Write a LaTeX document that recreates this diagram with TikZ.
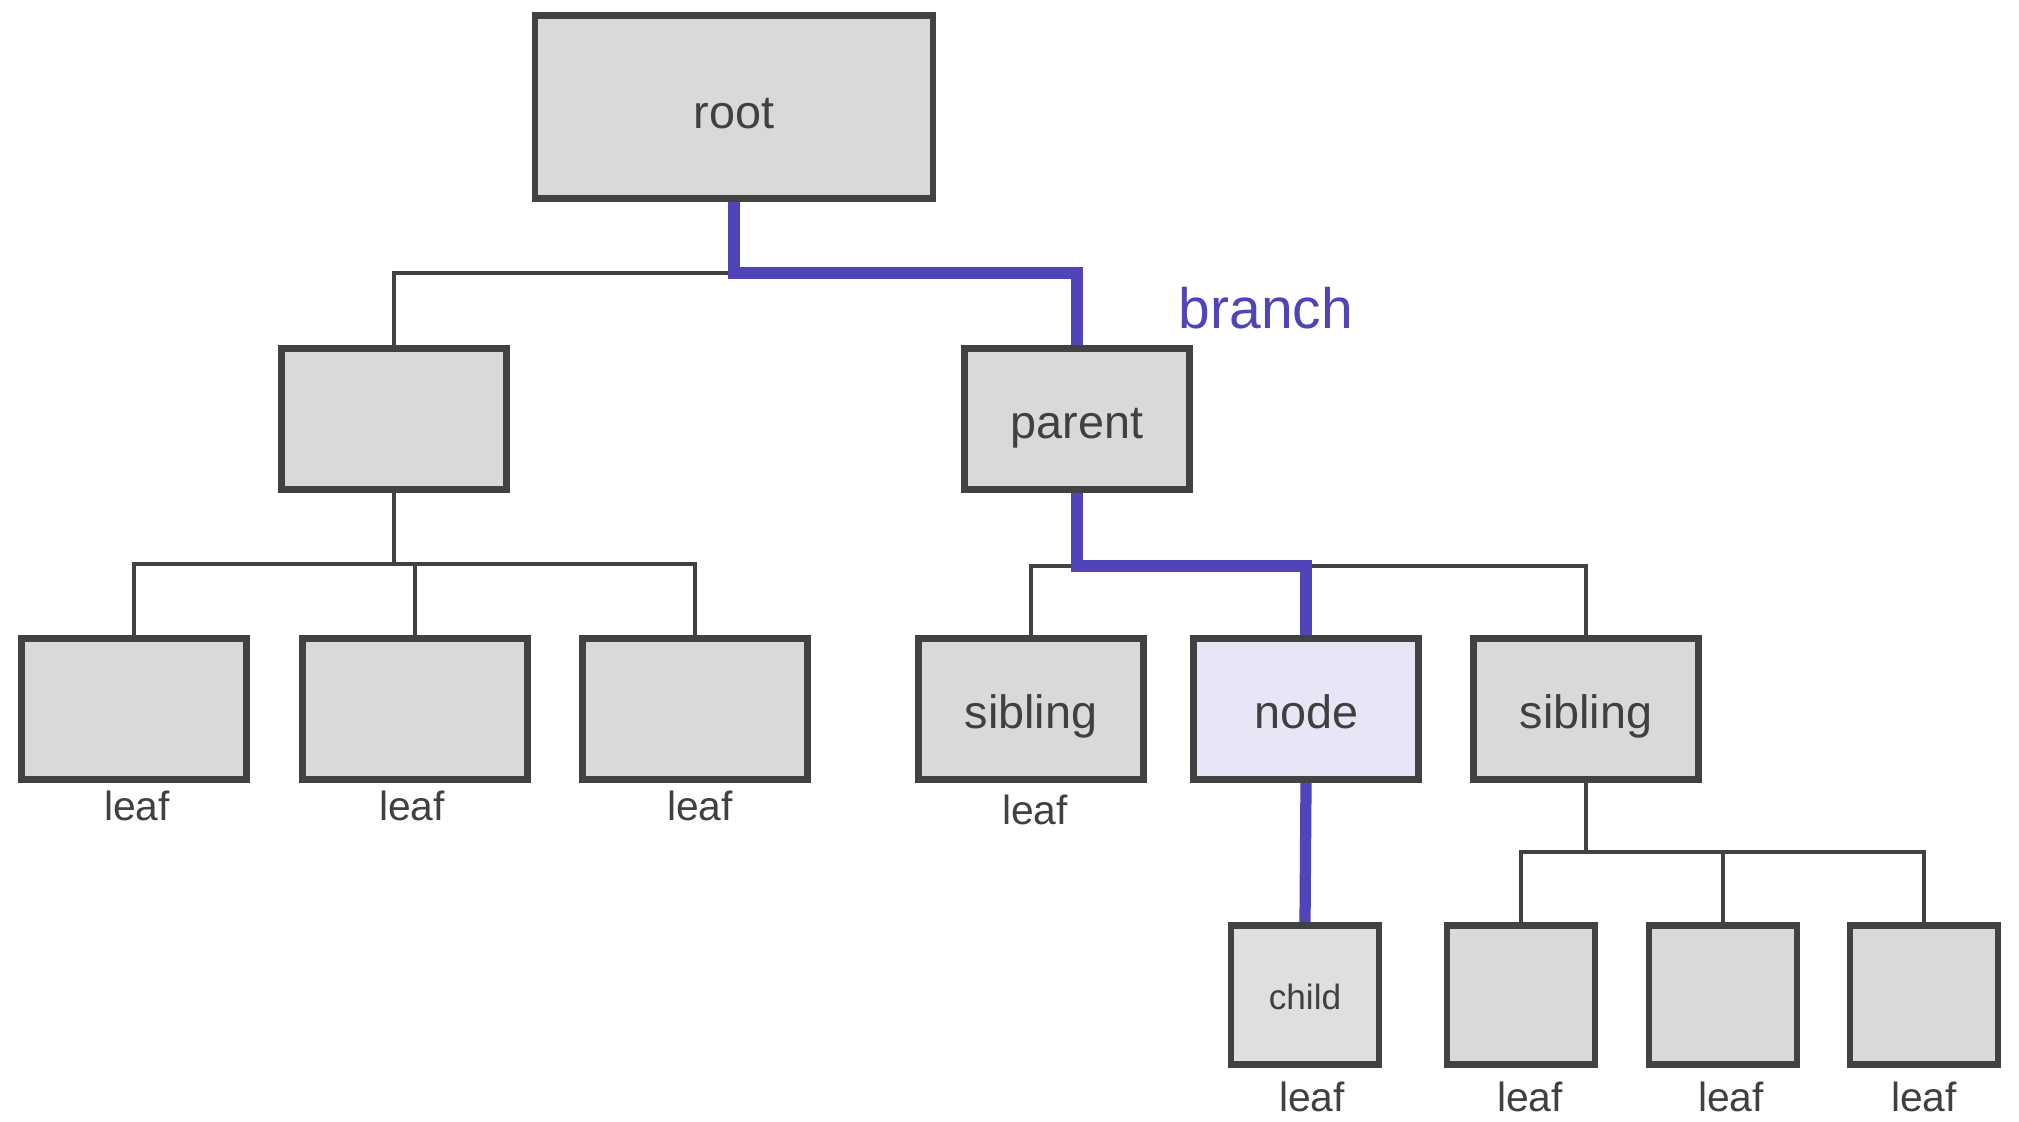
\documentclass[tikz,border=0pt]{standalone}
\usepackage{fontspec}
\setmainfont{Liberation Sans}
\usetikzlibrary{positioning}
\definecolor{boxgray}{HTML}{D9D9D9}
\definecolor{edgegray}{HTML}{424242}
\definecolor{textgray}{HTML}{404040}
\definecolor{hotpurple}{HTML}{5044B9}
\definecolor{focusfill}{HTML}{E7E5F6}
\definecolor{childfill}{HTML}{DFDFDF}

\begin{document}
\begin{tikzpicture}[
    x=0.01cm, y=-0.01cm,
    box/.style={draw=edgegray, fill=boxgray, line width=1.9pt, text=textgray, inner sep=0pt,
                text height=11pt, text depth=0pt,
                font=\fontsize{13.3}{16}\selectfont, minimum width=2.25cm, minimum height=1.41cm},
    smallbox/.style={box, minimum width=1.48cm, minimum height=1.39cm},
    leaflbl/.style={text=textgray, inner sep=0pt, font=\fontsize{11.6}{13}\selectfont},
    bus/.style={draw=edgegray, line width=1.1pt},
    hot/.style={draw=hotpurple, line width=3.2pt},
]
\useasboundingbox (0,0) rectangle (2019,1122);

% Nodes
\node[box, minimum width=3.98cm, minimum height=1.83cm, text height=12pt] (root) at (734,107) {root};
\node[box] (inner) at (394,419) {};
\node[box] (parent) at (1077,419) {parent};
\node[box] (leafa) at (134,709) {};
\node[box] (leafb) at (415,709) {};
\node[box] (leafc) at (695,709) {};
\node[box] (sibl) at (1031,709) {sibling};
\node[box, fill=focusfill] (thenode) at (1306,709) {node};
\node[box] (sibr) at (1586,709) {sibling};
\node[smallbox, fill=childfill, text height=8.5pt, font=\fontsize{10}{12}\selectfont] (child) at (1305,995) {child};
\node[smallbox] (leafd) at (1521,995) {};
\node[smallbox] (leafe) at (1723,995) {};
\node[smallbox] (leaff) at (1924,995) {};

% Labels under the leaves
\node[leaflbl, below=0.07cm of leafa, xshift=0.03cm] (leafatxt) {leaf};
\node[leaflbl, below=0.07cm of leafb, xshift=-0.03cm] (leafbtxt) {leaf};
\node[leaflbl, below=0.07cm of leafc, xshift=0.05cm] (leafctxt) {leaf};
\node[leaflbl, below=0.11cm of sibl, xshift=0.04cm] (sibltxt) {leaf};
\node[leaflbl, below=0.13cm of child, xshift=0.07cm] (childtxt) {leaf};
\node[leaflbl, below=0.13cm of leafd, xshift=0.09cm] (leafdtxt) {leaf};
\node[leaflbl, below=0.13cm of leafe, xshift=0.08cm] (leafetxt) {leaf};
\node[leaflbl, below=0.13cm of leaff] (leafftxt) {leaf};
\node[text=hotpurple, inner sep=0pt, anchor=base west, font=\fontsize{16.2}{19}\selectfont] (branchtxt) at (1178,329) {branch};

% Bus levels
\coordinate (bustop) at (0,273);
\coordinate (busleft) at (0,564);
\coordinate (busright) at (0,566);
\coordinate (buslow) at (0,852);

% Plain connectors
\draw[bus] (root.south |- bustop) -| (inner.north);
\draw[bus] (inner.south) -- (inner.south |- busleft);
\draw[bus] (leafa.north) |- (leafc.north |- busleft) -- (leafc.north);
\draw[bus] (leafb.north) -- (leafb.north |- busleft);
\draw[bus] (sibl.north) |- (sibr.north |- busright) -- (sibr.north);
\draw[bus] (sibr.south) -- (sibr.south |- buslow);
\draw[bus] (leafd.north) |- (leaff.north |- buslow) -- (leaff.north);
\draw[bus] (leafe.north) -- (leafe.north |- buslow);

% Highlighted branch
\draw[hot] (root.south) -- (root.south |- bustop) -| (parent.north);
\draw[hot] (parent.south) -- (parent.south |- busright) -| (thenode.north);
\draw[hot] (thenode.south) -- (child.north);

\end{tikzpicture}
\end{document}
